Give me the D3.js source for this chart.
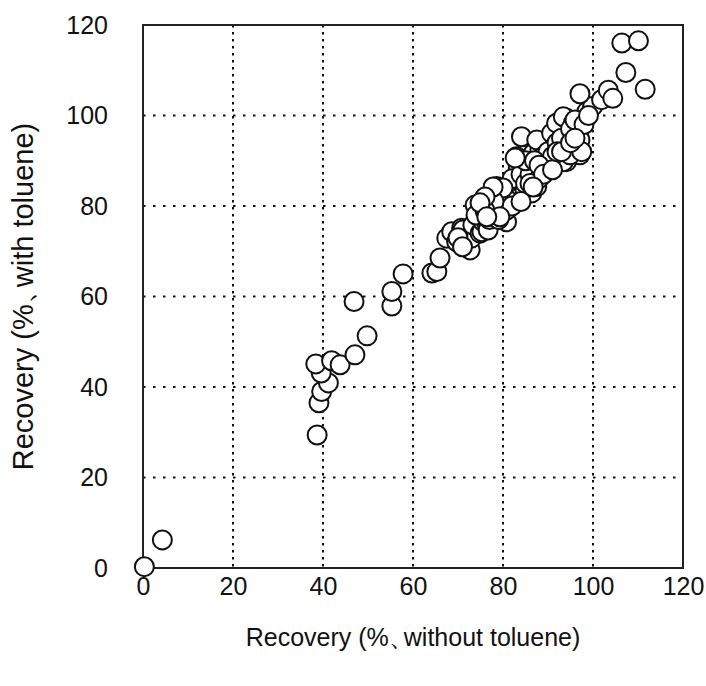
<!DOCTYPE html>
<html>
<head>
<meta charset="utf-8">
<script src="https://cdn.jsdelivr.net/npm/d3@7"></script>
<style>
  body { margin: 0; background: #fff; }
  text { font-family: "Liberation Sans", Arial, sans-serif; fill: #111; }
</style>
</head>
<body>
<div id="viz"></div>
<script>
// recovery without toluene (x) / with toluene (y)
var withoutTol = [0.3, 4.3,
  38.7, 39.1, 39.7, 41.2, 39.6, 38.4, 41.9, 43.8, 47.1, 49.8, 46.9, 55.3, 55.3, 57.8,
  64.2, 65.3, 66.0, 67.5, 68.6, 69.7, 70.8, 71.1, 72.2, 72.7, 73.0, 73.3, 74.9, 75.3,
  75.6, 76.4, 76.7, 73.8, 75.6, 77.5, 78.6, 78.9, 80.8, 80.8, 80.8, 82.3, 83.4, 83.8,
  84.9, 86.4, 87.5, 85.3, 83.4, 83.0, 86.0, 87.5, 88.9, 90.4, 91.9, 94.1, 97.1, 84.1,
  86.7, 88.2, 89.7, 87.5, 90.8, 91.9, 94.1, 93.4, 95.6, 96.4, 97.1, 94.9, 92.7, 89.7,
  93.4, 94.9, 97.5, 97.1, 98.6, 99.9, 101.9, 97.1, 103.4, 104.4, 106.4, 110.1, 107.3, 111.6,
  79.5, 81.5, 82.0, 84.0, 85.0, 86.0, 88.0, 89.0, 90.0, 91.0, 92.0, 93.0, 95.0, 96.0,
  98.0, 99.0, 85.0, 87.0, 88.0, 78.0, 77.0, 79.0, 82.0, 84.0, 86.0, 89.0, 91.0, 92.0,
  93.0, 95.0, 96.0, 80.0, 78.0, 70.0, 71.0, 74.0, 76.0,
  86.7, 82.7, 77.8, 76.0, 74.9, 79.3, 76.4];
var withTol = [0.3, 6.2,
  29.4, 36.5, 39.0, 40.9, 43.1, 45.1, 45.8, 44.9, 47.1, 51.3, 58.9, 57.9, 61.1, 65.0,
  65.2, 65.5, 68.5, 72.9, 74.3, 72.1, 75.1, 74.7, 70.7, 70.3, 72.9, 75.8, 74.0, 74.3,
  76.5, 76.2, 74.7, 80.2, 81.3, 78.0, 84.3, 82.0, 76.5, 79.1, 82.9, 83.5, 85.0, 82.0,
  83.5, 82.9, 84.3, 86.5, 88.4, 90.9, 89.5, 88.0, 88.7, 89.5, 90.2, 89.8, 91.3, 95.3,
  91.6, 92.4, 93.9, 94.6, 96.1, 98.3, 99.4, 99.7, 98.3, 96.8, 94.6, 95.7, 93.1, 89.4,
  89.8, 91.3, 92.0, 99.0, 100.8, 102.0, 103.5, 104.8, 105.6, 103.8, 116.0, 116.5, 109.5, 105.8,
  80.5, 81.0, 86.0, 87.0, 85.0, 87.0, 86.0, 91.0, 92.0, 91.0, 94.0, 95.0, 97.0, 99.0,
  98.0, 100.0, 90.0, 90.0, 89.0, 79.0, 77.0, 77.0, 80.0, 81.0, 85.0, 87.0, 88.0, 92.0,
  92.0, 94.0, 95.0, 84.0, 81.0, 73.0, 71.0, 78.0, 79.0,
  84.2, 90.6, 84.2, 82.0, 80.7, 77.6, 77.6];
var xTicks = [0, 20, 40, 60, 80, 100, 120];
var yTicks = [0, 20, 40, 60, 80, 100, 120];

var margin = {top: 25, right: 23, bottom: 118, left: 143},
    width = 706 - margin.left - margin.right,
    height = 686 - margin.top - margin.bottom;

var svg = d3.select('#viz').append("svg")
    .attr("width", 706)
    .attr("height", 686)
  .append("g")
    .attr("transform", "translate(" + margin.left + "," + margin.top + ")");

var x = d3.scaleLinear().domain([0, 120]).range([0, width]);
var y = d3.scaleLinear().domain([0, 120]).range([height, 0]);

// dotted grid
svg.append("g").selectAll("line")
    .data(xTicks.slice(1, -1))
  .enter().append("line")
    .attr("x1", function(d) { return x(d); })
    .attr("x2", function(d) { return x(d); })
    .attr("y1", 0).attr("y2", height)
    .attr("stroke", "#111").attr("stroke-width", 2)
    .attr("stroke-dasharray", "2.5,4.5");
svg.append("g").selectAll("line")
    .data(yTicks.slice(1, -1))
  .enter().append("line")
    .attr("y1", function(d) { return y(d); })
    .attr("y2", function(d) { return y(d); })
    .attr("x1", 0).attr("x2", width)
    .attr("stroke", "#111").attr("stroke-width", 2)
    .attr("stroke-dasharray", "2.5,7.5");

// frame
svg.append("rect")
    .attr("width", width).attr("height", height)
    .attr("fill", "none").attr("stroke", "#222").attr("stroke-width", 2);

// axes, labels only
var xAxis = svg.append("g")
    .attr("transform", "translate(0," + height + ")")
    .call(d3.axisBottom(x).tickValues(xTicks).tickSize(0).tickPadding(9));
var yAxis = svg.append("g")
    .call(d3.axisLeft(y).tickValues(yTicks).tickSize(0).tickPadding(35));
[xAxis, yAxis].forEach(function(a) {
  a.select(".domain").remove();
  a.selectAll("text").attr("font-size", 25).attr("font-family", "Liberation Sans, Arial, sans-serif").attr("fill", "#111");
});

// points
svg.append("g").selectAll("circle")
    .data(d3.range(withoutTol.length))
  .enter().append("circle")
    .attr("cx", function(i) { return x(withoutTol[i]); })
    .attr("cy", function(i) { return y(withTol[i]); })
    .attr("r", 9.5)
    .attr("fill", "#fff")
    .attr("stroke", "#111")
    .attr("stroke-width", 2);

var xt = svg.append("text")
    .attr("x", width / 2)
    .attr("y", height + 78)
    .attr("text-anchor", "middle")
    .attr("font-size", 25);
xt.append("tspan").text("Recovery (%、");
xt.append("tspan").attr("dx", -10).text("without toluene)");

var yt = svg.append("text")
    .attr("transform", "rotate(-90)")
    .attr("x", -height / 2)
    .attr("y", -110)
    .attr("text-anchor", "middle")
    .attr("font-size", 29);
yt.append("tspan").text("Recovery (%、");
yt.append("tspan").attr("dx", -12).text("with toluene)");
</script>
</body>
</html>
